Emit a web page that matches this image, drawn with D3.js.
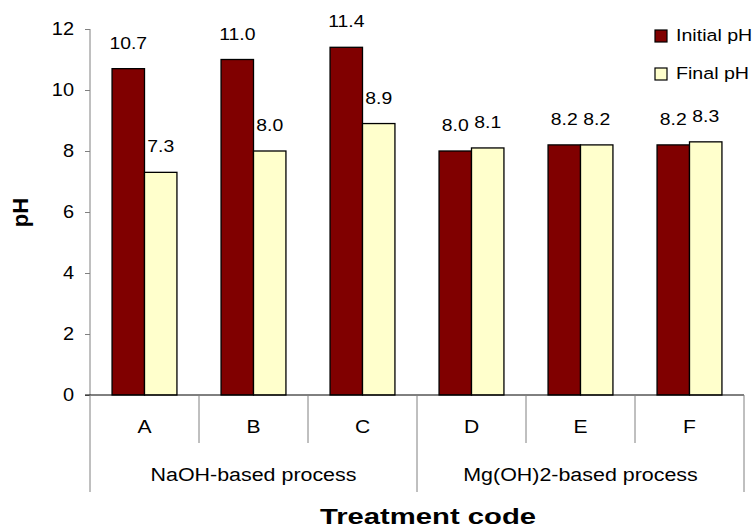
<!DOCTYPE html>
<html>
<head>
<meta charset="utf-8">
<script src="https://cdn.jsdelivr.net/npm/d3@7"></script>
<style>
  body { margin: 0; background: #fff; }
  svg { display: block; font-family: "Liberation Sans", Arial, sans-serif; }
</style>
</head>
<body>
<svg id="chart" width="755" height="529"></svg>
<script>
// Treatment codes, grouped by process
const categories = ["A", "B", "C", "D", "E", "F"];
const groups = [
  { name: "NaOH-based process", members: ["A", "B", "C"] },
  { name: "Mg(OH)2-based process", members: ["D", "E", "F"] }
];
const seriesNames = ["Initial pH", "Final pH"];
const initialPH = [10.7, 11.0, 11.4, 8.0, 8.2, 8.2];
const finalPH = [7.3, 8.0, 8.9, 8.1, 8.2, 8.3];
const yTicks = [0, 2, 4, 6, 8, 10, 12];
const colors = ["#800000", "#FFFFCC"];

// all type is set slightly wide
const STRETCH = 1.14;

const svg = d3.select("#chart");
const plotLeft = 90, plotRight = 744, plotTop = 29, plotBottom = 395;

const x = d3.scaleBand().domain(categories).range([plotLeft, plotRight]).paddingInner(0).paddingOuter(0);
const xSub = d3.scaleBand().domain(seriesNames).range([0, x.bandwidth()]).paddingInner(0).paddingOuter(0.68);
const y = d3.scaleLinear().domain([0, 12]).range([plotBottom, plotTop]);

const rows = categories.map((c, i) => ({ cat: c, values: [initialPH[i], finalPH[i]] }));

// place a widened text label at (tx, ty)
function wideText(parent, tx, ty, str, size, anchor, bold, stretch) {
  return parent.append("text")
    .attr("transform", `translate(${tx},${ty}) scale(${stretch || STRETCH},1)`)
    .attr("text-anchor", anchor || "middle")
    .attr("font-size", size)
    .attr("font-weight", bold ? "bold" : "normal")
    .attr("fill", "#000")
    .text(str);
}

// Y axis
const yAxis = svg.append("g")
  .attr("transform", `translate(${plotLeft},0)`)
  .call(d3.axisLeft(y).tickValues(yTicks).tickSize(5).tickPadding(11).tickFormat(d3.format("d")));
yAxis.select(".domain").attr("stroke", "#808080").attr("d", `M0,${plotTop}V${plotBottom}`);
yAxis.selectAll(".tick line").attr("stroke", "#808080");
yAxis.selectAll(".tick text")
  .attr("x", null)
  .attr("transform", `translate(-16,0) scale(${STRETCH},1)`)
  .attr("font-size", 17.5).attr("fill", "#000")
  .attr("font-family", "Liberation Sans, Arial, sans-serif");

// Bars with value labels
const gBars = svg.append("g");
rows.forEach(r => {
  const g = gBars.append("g").attr("transform", `translate(${x(r.cat)},0)`);
  g.selectAll("rect").data(r.values).join("rect")
    .attr("x", (d, i) => xSub(seriesNames[i]))
    .attr("y", d => y(d))
    .attr("width", xSub.bandwidth())
    .attr("height", d => y(0) - y(d))
    .attr("fill", (d, i) => colors[i])
    .attr("stroke", "#000")
    .attr("stroke-width", 1.3);
  r.values.forEach((d, i) => {
    wideText(g, xSub(seriesNames[i]) + xSub.bandwidth() / 2, y(d) - 20, d.toFixed(1), 17);
  });
});

// Category axis with group dividers
const baseLine = svg.append("g");
baseLine.append("line")
  .attr("x1", plotLeft - 5).attr("x2", plotRight).attr("y1", plotBottom).attr("y2", plotBottom)
  .attr("stroke", "#000").attr("stroke-width", 1);

const boundaries = categories.map(c => x(c)).concat([plotRight]);
boundaries.forEach((bx, i) => {
  const isGroupEdge = i === 0 || i === 3 || i === categories.length;
  baseLine.append("line")
    .attr("x1", bx).attr("x2", bx)
    .attr("y1", plotBottom).attr("y2", isGroupEdge ? 492 : 443)
    .attr("stroke", "#808080").attr("stroke-width", 1);
});

categories.forEach(c => {
  wideText(baseLine, x(c) + x.bandwidth() / 2, 433, c, 18.5);
});

groups.forEach(gr => {
  const cx = (x(gr.members[0]) + x(gr.members[gr.members.length - 1]) + x.bandwidth()) / 2;
  wideText(baseLine, cx, 481, gr.name, 18.8);
});

// Axis titles
wideText(svg, 428, 524, "Treatment code", 22.5, "middle", true, 1.3);

svg.append("text")
  .attr("transform", "translate(28,212.5) rotate(-90)")
  .attr("text-anchor", "middle")
  .attr("font-size", 22)
  .attr("font-weight", "bold")
  .text("pH");

// Legend
const legend = svg.append("g").attr("transform", "translate(655,0)");
seriesNames.forEach((name, i) => {
  const ly = 30 + i * 38;
  legend.append("rect")
    .attr("x", 0).attr("y", ly).attr("width", 12).attr("height", 12)
    .attr("fill", colors[i]).attr("stroke", "#000").attr("stroke-width", 1.2);
  wideText(legend, 21, ly + 11, name, 17.2, "start");
});
</script>
</body>
</html>
